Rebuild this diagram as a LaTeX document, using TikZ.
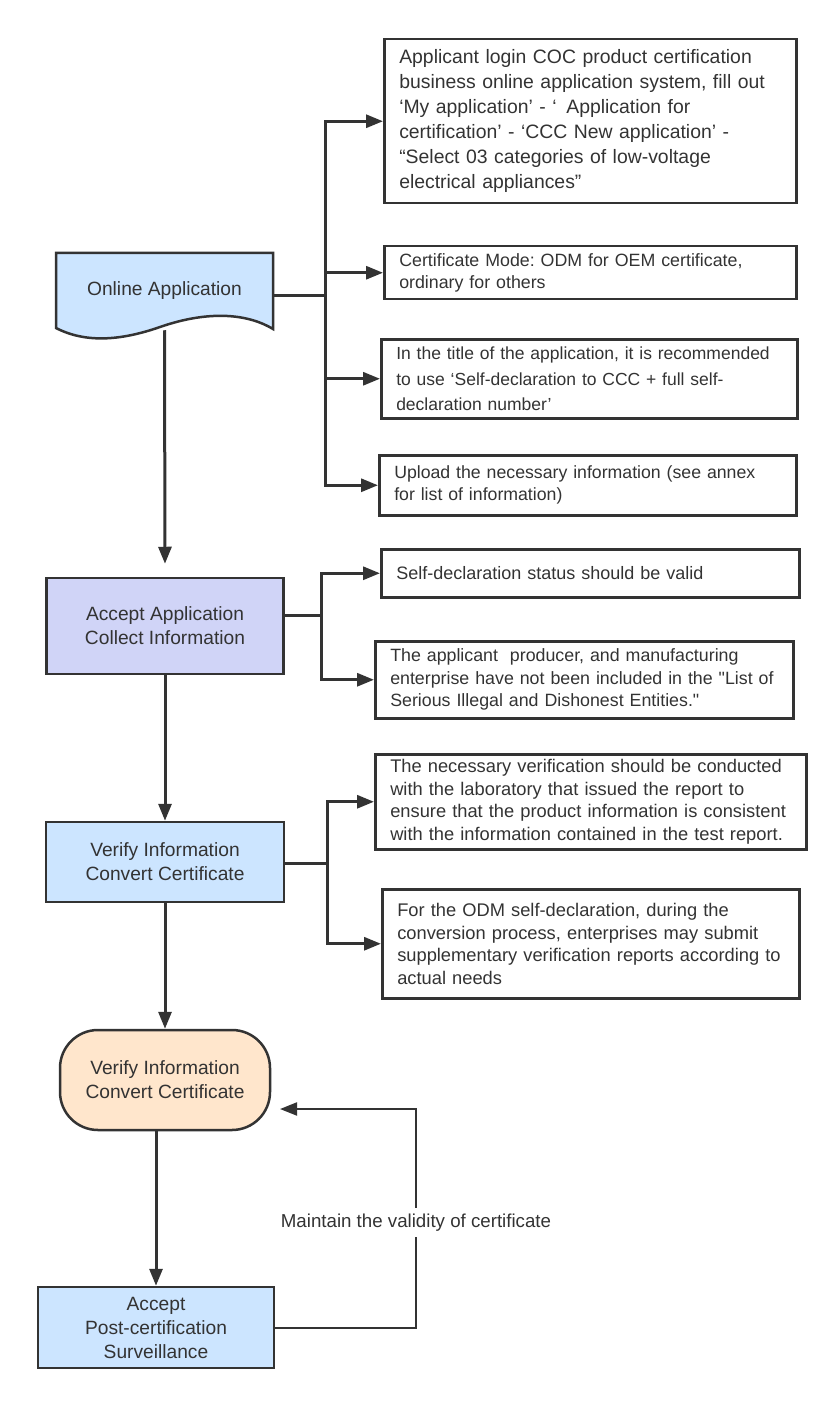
\documentclass[tikz,border=0pt]{standalone}
\usepackage{fontspec}
\setmainfont{Liberation Sans}[Ligatures=TeXOff]
\frenchspacing
\usetikzlibrary{arrows.meta,shapes,positioning}
\definecolor{linegray}{HTML}{333333}
\definecolor{stageblue}{HTML}{CCE5FF}
\definecolor{stagelilac}{HTML}{D0D4F7}
\definecolor{stagepeach}{HTML}{FFE6CC}
\tikzset{
  basic/.style  = {draw=linegray, line width=2.5pt, text=linegray, rectangle, inner sep=0pt},
  stage/.style  = {basic, align=center, fill=stageblue,
                   font=\fontsize{19.2}{24}\selectfont},
  note/.style   = {basic, anchor=north west, align=left, inner xsep=15pt,
                   font=\fontsize{18.3}{22.5}\selectfont},
  docshape/.style = {draw=linegray, line width=2.5pt, fill=stageblue},
  wire/.style   = {draw=linegray, line width=3pt},
  thinwire/.style = {draw=linegray, line width=2pt},
  looplabel/.style = {fill=white, text=linegray, inner xsep=2pt, inner ysep=6pt,
                   font=\fontsize{18.7}{22}\selectfont}
}

\begin{document}
\begin{tikzpicture}[x=1pt, y=-1pt,
  >={Triangle[length=17pt,width=13pt]}]
\useasboundingbox (0,0) rectangle (837,1404);

% the first stage, drawn as a document with a wavy bottom
\draw[docshape] (56,253) -- (273,253) -- (273,329)
  .. controls (250,315) and (212,309) .. (160,327)
  .. controls (120,341) and (85,343) .. (56,328) -- cycle;
\node[stage, draw=none, fill=none, minimum width=217pt, minimum height=76pt] (A) at (164.5,291) {Online Application};

% the other stages down the left side
\node[stage, fill=stagelilac, minimum width=237pt, minimum height=96pt] (B) at (165,626) {Accept Application\\Collect Information};
\node[stage, minimum width=238pt, minimum height=80pt] (C) at (165,862) {Verify Information\\Convert Certificate};
\node[stage, fill=stagepeach, rounded corners=38pt, minimum width=210pt, minimum height=100pt] (D) at (165,1080) {Verify Information\\Convert Certificate};
\node[stage, minimum width=236pt, minimum height=81pt] (E) at (156,1327.5) {Accept\\Post-certification\\Surveillance};

% the notes on the right, placed by their top left corners
\begin{scope}[every node/.style={note}]
\node[text width=382pt, minimum height=164pt, font=\fontsize{19.4}{25}\selectfont] (a1) at (383,38)
  {Applicant login COC product certification\\business online application system, fill out\\‘My application’ - ‘~\,Application for\\certification’ - ‘CCC New application’ -\\“Select 03 categories of low-voltage\\electrical appliances”};
\node[text width=382pt, minimum height=53pt, font=\fontsize{17.8}{22}\selectfont] (a2) at (383,245)
  {Certificate Mode: ODM for OEM certificate,\\ordinary for others};
\node[text width=386pt, minimum height=79pt, font=\fontsize{17.5}{25.5}\selectfont] (a3) at (380,338)
  {In the title of the application, it is recommended\\to use ‘Self-declaration to CCC + full self-\\declaration number’};
\node[text width=387pt, minimum height=60pt, font=\fontsize{17.7}{22}\selectfont] (a4) at (378,454)
  {Upload the necessary information (see annex\\for list of information)};

\node[text width=388pt, minimum height=48pt, font=\fontsize{18}{22}\selectfont] (b1) at (380,548)
  {Self-declaration status should be valid};
\node[text width=388pt, minimum height=77pt, font=\fontsize{17.8}{22.5}\selectfont] (b2) at (374,640)
  {The applicant~ producer, and manufacturing\\enterprise have not been included in the "List of\\Serious Illegal and Dishonest Entities."};

\node[text width=401pt, minimum height=95pt] (c1) at (374,753)
  {The necessary verification should be conducted\\with the laboratory that issued the report to\\ensure that the product information is consistent\\with the information contained in the test report.};
\node[text width=387pt, minimum height=109pt] (c2) at (381,888)
  {For the ODM self-declaration, during the\\conversion process, enterprises may submit\\supplementary verification reports according to\\actual needs};
\end{scope}

% main flow down the left side
\draw[wire,->, shorten >=13pt] (A.south) -- (B.north);
\draw[wire,->] (B.south) -- (C.north);
\draw[wire,->] (C.south) -- (D.north);
\draw[wire,->] (D.south -| E.north) -- (E.north);

% lines from each stage to its notes
\coordinate (ja) at (325,296);
\coordinate (jb) at (321,615);
\coordinate (jc) at (327,863);

\draw[wire] (A.east |- ja) -- (ja);
\foreach \value in {1,...,4}
  \draw[wire,->] (ja) |- (a\value.west);

\draw[wire] (B.east |- jb) -- (jb);
\foreach \value in {1,2}
  \draw[wire,->] (jb) |- (b\value.west);

\draw[wire] (C.east |- jc) -- (jc);
\foreach \value in {1,2}
  \draw[wire,->] (jc) |- (c\value.west);

% loop back from the surveillance
\coordinate (turn) at (416,1109);
\coordinate (dret) at (280,1109);
\draw[thinwire,->] (E.east) -- (E.east -| turn)
  -- node[looplabel, pos=0.48] (lbl) {Maintain the validity of certificate} (turn) -- (dret);

\end{tikzpicture}
\end{document}
